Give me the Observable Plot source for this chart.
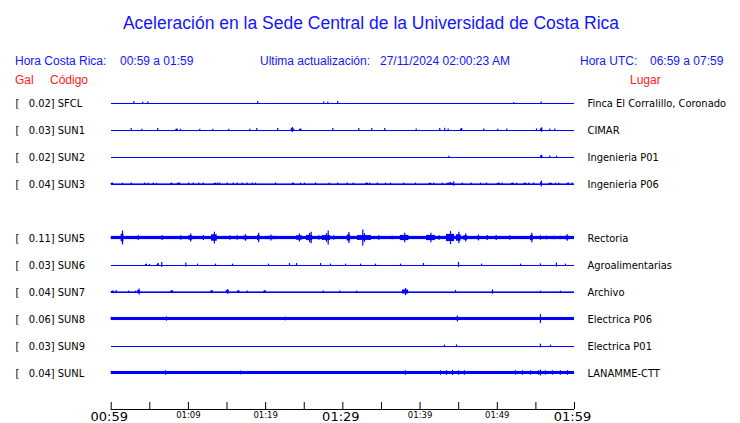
<!DOCTYPE html>
<html><head><meta charset="utf-8">
<script src="https://cdn.jsdelivr.net/npm/d3@7"></script>
<script src="https://cdn.jsdelivr.net/npm/@observablehq/plot@0.6"></script>
<style>
body{margin:0;background:#fff;}
#wrap{position:relative;width:740px;height:423px;overflow:hidden;background:#fff;}
#head{position:relative;height:80px;font-family:"Liberation Sans",Arial,sans-serif;font-size:12px;line-height:14px;}
#head span{position:absolute;white-space:pre;}
#head .b{color:#1414ff;}
#head .r{color:#ff1a1a;}
#title{left:0;width:742px;text-align:center;top:13px;font-size:17.5px;line-height:20px;}
svg{display:block;}
</style></head>
<body><div id="wrap">
<div id="head">
<span id="title" class="b">Aceleración en la Sede Central de la Universidad de Costa Rica</span>
<span class="b" style="left:15px;top:54px">Hora Costa Rica:</span>
<span class="b" style="left:120px;top:54px">00:59 a 01:59</span>
<span class="b" style="left:260px;top:54px">Ultima actualización:</span>
<span class="b" style="left:380px;top:54px">27/11/2024 02:00:23 AM</span>
<span class="b" style="left:580px;top:54px">Hora UTC:</span>
<span class="b" style="left:650px;top:54px">06:59 a 07:59</span>
<span class="r" style="left:15px;top:73px">Gal</span>
<span class="r" style="left:50px;top:73px">Código</span>
<span class="r" style="left:630px;top:73px">Lugar</span>
</div>
<div id="rows"></div>
<div id="axis"></div>
</div>
<script>
// ---- data ----
const START = "00:59", END = "01:59";
const slots = ["SFCL","SUN1","SUN2","SUN3","SUN4","SUN5","SUN6","SUN7","SUN8","SUN9","SUNL"];
const codes = ["SFCL","SUN1","SUN2","SUN3","SUN5","SUN6","SUN7","SUN8","SUN9","SUNL"];
const peaks = [0.02,0.03,0.02,0.04,0.11,0.03,0.04,0.06,0.03,0.04];
const places = ["Finca El Corralillo, Coronado","CIMAR","Ingenieria P01","Ingenieria P06","Rectoria","Agroalimentarias","Archivo","Electrica P06","Electrica P01","LANAMME-CTT"];
// background noise level of each trace (Gal, half band)
const noise = [0,0,0,0.004,0.022,0,0.004,0.021,0,0.021];
// bursts: [minutes after start, peak amplitude Gal, duration minutes]
const SFCL = [[2.93,0.02],[4.09,0.01],[4.74,0.012],[18.98,0.02],[27.53,0.015],[28.05,0.01],[29.34,0.02],[52.14,0.008],[55.68,0.012]];
const SUN1 = [[2.59,.02],[3.96,.01],[6.03,.02],[8.37,.015,.3],[8.97,.01],[11.47,.01],[13.16,.01],[15.23,.01],[17.95,.01],[18.86,.02],[21.57,.02],[23.31,.035,.3],[23.65,.015],[24.38,.015,.3],[28.7,.02],[32.06,.02],[33.75,.02],[35.43,.02],[39.5,.015],[42.55,.02],[43.2,.025],[43.64,.015],[45.23,.02,.3],[48.25,.015],[50.06,.01],[51.23,.015],[55.08,.015],[55.59,.03,.3],[56.8,.015],[57.45,.015]];
const SUN2 = [[43.72,.01],[55.59,.025,.3],[56.8,.012],[57.67,.012]];
const SUN3 = [[0.0,.015,.3],[1.46,.012],[2.59,.015],[4.35,.012],[4.79,.01],[5.44,.012],[5.87,.01],[7.68,.012,.3],[8.55,.015,.3],[8.88,.012],[10.04,.012],[10.62,.012],[11.34,.012],[11.91,.015],[13.3,.012,.4],[13.8,.015],[14.07,.012],[15.02,.012],[15.8,.015],[16.32,.012],[16.96,.015],[17.61,.012],[18.26,.015],[18.69,.012],[21.28,.015],[23.44,.015,.3],[24.52,.012],[25.03,.012],[26.46,.015],[28.23,.015],[29.34,.012],[30.56,.015],[31.34,.012],[32.93,.015,.4],[33.49,.012],[34.45,.012],[35.52,.012],[36.17,.012],[37.89,.012],[39.41,.012],[41.13,.012,.4],[41.78,.012],[42.86,.015],[43.51,.02,.8],[44.37,.03],[45.45,.015],[46.62,.012],[47.82,.012],[48.6,.015],[49.99,.015,.4],[50.63,.012],[51.8,.015,.4],[52.49,.012],[53.43,.015,.4],[54.08,.012],[54.73,.015],[55.59,.04,.25],[56.67,.015,.5],[57.54,.012],[57.96,.015],[59.05,.015,.3],[59.7,.012]];
const SUN5 = [[1.29,.095,.35],[3.5,.035],[6.6,.035],[9.01,.03],[10.05,.055,.5],[11.69,.035,.5],[12.99,.08,.75],[15.36,.03],[16.32,.03],[17.09,.045,.6],[18.95,.065,.3],[20.02,.04,1.35],[24.0,.055,.75],[25.29,.065,.8],[25.9,.08],[26.68,.03,.45],[27.32,.06,1.1],[28.1,.095],[28.83,.03],[30.56,.075,.45],[31.9,.06,1.8],[32.58,.11],[34.65,.03],[36.39,.025],[37.46,.065,1.1],[39.41,.02,.4],[40.83,.065,1.15],[42.3,.03,.35],[43.42,.09,1.05],[44.72,.08,.6],[45.66,.055,.5],[47.31,.04,.5],[48.69,.035],[49.86,.035],[51.62,.03],[54.3,.065,.35],[55.59,.03],[56.37,.025],[57.2,.025,.25],[57.9,.025,.5],[58.84,.045,.45]];
const SUN6 = [[4.44,.012,.25],[4.96,.008],[5.96,.02,.25],[6.55,.035],[9.66,.028],[11.18,.012],[13.51,.012],[15.71,.012],[20.37,.012],[23.09,.02],[24.0,.02],[27.11,.02],[28.4,.012],[30.35,.012],[32.29,.012],[34.23,.012],[37.47,.012],[40.44,.02],[44.98,.035],[47.96,.012],[53.01,.012],[55.59,.015],[57.66,.028],[58.83,.012]];
const SUN7 = [[0.0,.015,.4],[0.65,.02],[2.28,.012],[3.15,.012],[3.44,.04,.35],[7.68,.02,.4],[12.86,.02,.35],[14.89,.035,.4],[16.32,.02,.35],[17.61,.012],[19.76,.02,.3],[27.45,.012],[29.6,.012],[31.77,.012],[37.72,.05,.8],[44.59,.02],[49.38,.03],[55.59,.012],[58.18,.012]];
const SUN8 = [[7.16,.03],[22.57,.025],[44.59,.04,.5],[55.59,.06]];
const SUN9 = [[43.16,.012],[44.72,.015],[55.59,.025],[56.89,.012]];
const SUNL = [[7.03,.03],[16.74,.025],[38.11,.03],[42.65,.03],[43.42,.03],[44.2,.035],[44.98,.03],[45.75,.03],[52.36,.03],[53.26,.03],[54.3,.03],[55.33,.03],[55.59,.04],[56.24,.03],[57.15,.03],[58.18,.03],[59.08,.03]];
const burstLists = [SFCL,SUN1,SUN2,SUN3,SUN5,SUN6,SUN7,SUN8,SUN9,SUNL];
const tickStep = 5; // minutes between axis ticks
const majorLabels = ["00:59","01:29","01:59"];
const minorLabels = ["01:09","01:19","01:39","01:49"];

// ---- build ----
const parse = d3.utcParse("%H:%M");
const t0 = parse(START), t1 = parse(END);
const at = m => new Date(+t0 + m * 60000);
const blue = "#0000ff";
const stations = codes.map((c,i) => ({code:c, peak:peaks[i], place:places[i], noise:noise[i]}));
const bursts = burstLists.flatMap((list,i) => list.map(([m,a,d]) => ({code:codes[i], t:at(m), t2:at(m + (d||0)), tm:at(m + (d||0)/2), a, wide: !!d})));
const nb = "\u00a0";
const font = "'DejaVu Sans Condensed','DejaVu Sans',sans-serif";

const rows = Plot.plot({
  width: 740, height: 310, marginTop: 9, marginBottom: 4, marginLeft: 110.7, marginRight: 166,
  x: {type: "utc", domain: [t0, t1], axis: null},
  y: {domain: [-0.185, 0.185], axis: null},
  fy: {domain: slots, axis: null, padding: 0},
  style: {fontFamily: font, fontSize: "11px", overflow: "visible", background: "#fff", fontStretch: "condensed"},
  marks: [
    Plot.ruleY(stations, {fy: "code", y: () => 0, x1: () => t0, x2: () => t1, stroke: blue, strokeWidth: 1, shapeRendering: "crispEdges"}),
    Plot.rect(stations.filter(d => d.noise > 0), {fy: "code", x1: () => t0, x2: () => t1, y1: d => -d.noise, y2: d => d.noise, fill: blue}),
    // envelope body of longer bursts
    Plot.rect(bursts.filter(d => d.wide), {fy: "code", x1: "t", x2: "t2", y1: d => -0.55 * d.a, y2: d => 0.55 * d.a, fill: blue}),
    // peak spike of every burst
    Plot.ruleX(bursts, {fy: "code", x: "tm", y1: d => -d.a, y2: d => d.a, stroke: blue, strokeWidth: 1.2}),
    Plot.text(stations, {fy: "code", frameAnchor: "left", dx: -95.7, textAnchor: "start", text: d => `[${nb}${nb}${nb}${d.peak.toFixed(2)}]${nb}${d.code}`, fill: "#000"}),
    Plot.text(stations, {fy: "code", frameAnchor: "right", dx: 13, textAnchor: "start", text: "place", fill: "#000"})
  ]
});
document.getElementById("rows").append(rows);

const ticks = d3.range(0, (t1 - t0) / 60000 + 0.001, tickStep).map(at);
const axis = Plot.plot({
  width: 740, height: 33, marginTop: 12, marginBottom: 14, marginLeft: 110.7, marginRight: 166,
  x: {type: "utc", domain: [t0, t1], axis: null},
  y: {domain: [0, 1], axis: null},
  style: {fontFamily: "'DejaVu Sans',sans-serif", overflow: "visible", background: "#fff"},
  marks: [
    Plot.ruleY([0], {stroke: "#000", strokeWidth: 1}),
    Plot.tickX(ticks, {x: d => d, stroke: "#000", strokeWidth: 1}),
    Plot.text(majorLabels, {x: d => parse(d), text: d => d, frameAnchor: "bottom", lineAnchor: "bottom", dy: 11, dx: -2, fontSize: 13, fill: "#000"}),
    Plot.text(minorLabels, {x: d => parse(d), text: d => d, frameAnchor: "bottom", lineAnchor: "bottom", dy: 8, fontSize: 8.5, fill: "#000"})
  ]
});
document.getElementById("axis").append(axis);
</script>
</body></html>
